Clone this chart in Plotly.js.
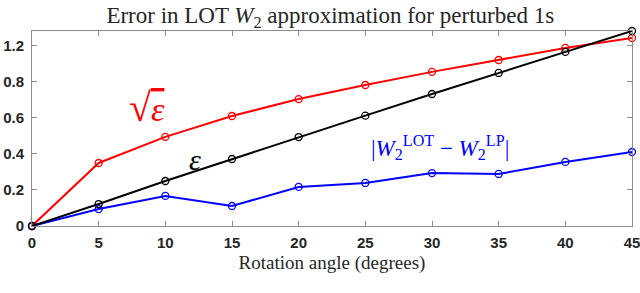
<!DOCTYPE html>
<html>
<head>
<meta charset="utf-8">
<script src="https://cdn.plot.ly/plotly-3.0.1.min.js"></script>
<style>html,body{margin:0;padding:0;background:#fff;}</style>
</head>
<body>
<div id="chart" style="width:640px;height:293px;"></div>
<script>
// Data
const angles = [0, 5, 10, 15, 20, 25, 30, 35, 40, 45];
const sqrtEps = [0, 0.35, 0.495, 0.611, 0.705, 0.783, 0.856, 0.922, 0.989, 1.044];
const eps = [0, 0.122, 0.25, 0.372, 0.494, 0.613, 0.733, 0.85, 0.967, 1.083];
const wDiff = [0, 0.094, 0.167, 0.111, 0.217, 0.239, 0.294, 0.289, 0.356, 0.411];
const xTickVals = [0, 5, 10, 15, 20, 25, 30, 35, 40, 45];
const yTickVals = [0, 0.2, 0.4, 0.6, 0.8, 1.0];
const yTickText = ["0", "0.2", "0.4", "0.6", "0.8", "1.2"];

function series(y, color) {
  return {
    x: angles, y: y, type: 'scatter', mode: 'lines+markers',
    line: {color: color, width: 2},
    marker: {symbol: 'circle-open', size: 7, color: color, line: {width: 1.3, color: color}},
    hoverinfo: 'skip', cliponaxis: false
  };
}
const data = [series(sqrtEps, '#ff0000'), series(wDiff, '#0000ff'), series(eps, '#000000')];

const serif = 'Liberation Serif, DejaVu Serif, serif';
const axisCommon = {
  showline: true, mirror: 'ticks', linecolor: '#8c8c8c', linewidth: 1,
  ticks: 'inside', ticklen: 5, tickcolor: '#8c8c8c', tickwidth: 1,
  showgrid: false, zeroline: false, ticklabeloverflow: 'allow',
  tickfont: {family: 'Liberation Sans, Arial, sans-serif', size: 15, color: '#262626', weight: 'bold'}
};
const layout = {
  width: 640, height: 293,
  margin: {l: 32, r: 8, t: 31, b: 67},
  paper_bgcolor: '#fff', plot_bgcolor: '#fff',
  showlegend: false,
  title: {text: 'Error in LOT <i>W</i><sub>2</sub> approximation for perturbed 1s',
          font: {family: serif, size: 23, color: '#262626'}, x: 0.516, xanchor: 'center', y: 0.95, yanchor: 'middle'},
  xaxis: Object.assign({}, axisCommon, {
    range: [0, 45], tickvals: xTickVals, ticktext: xTickVals.map(String), ticklabelstandoff: 3,
    title: {text: 'Rotation angle (degrees)', font: {family: serif, size: 19, color: '#262626'}, standoff: 5}
  }),
  yaxis: Object.assign({}, axisCommon, {
    range: [0, 1.083], tickvals: yTickVals, ticktext: yTickText, ticklabelstandoff: 4
  }),
  annotations: [
    {x: 8.6, y: 0.66, xref: 'x', yref: 'y', showarrow: false,
     text: '<span style="font-size:40px">√</span><span style="text-decoration:overline"><i>ε</i></span>',
     font: {family: serif, size: 34, color: '#ff0000'}},
    {x: 12.2, y: 0.37, xref: 'x', yref: 'y', showarrow: false, text: '<i>ε</i>',
     font: {family: serif, size: 30, color: '#000000'}},
    {x: 30.6, y: 0.435, xref: 'x', yref: 'y', showarrow: false,
     text: '|<i>W</i><sub>2</sub><sup>LOT</sup> − <i>W</i><sub>2</sub><sup>LP</sup>|',
     font: {family: serif, size: 23, color: '#0000ff'}}
  ]
};
Plotly.newPlot('chart', data, layout, {staticPlot: true, displayModeBar: false});
</script>
</body>
</html>
